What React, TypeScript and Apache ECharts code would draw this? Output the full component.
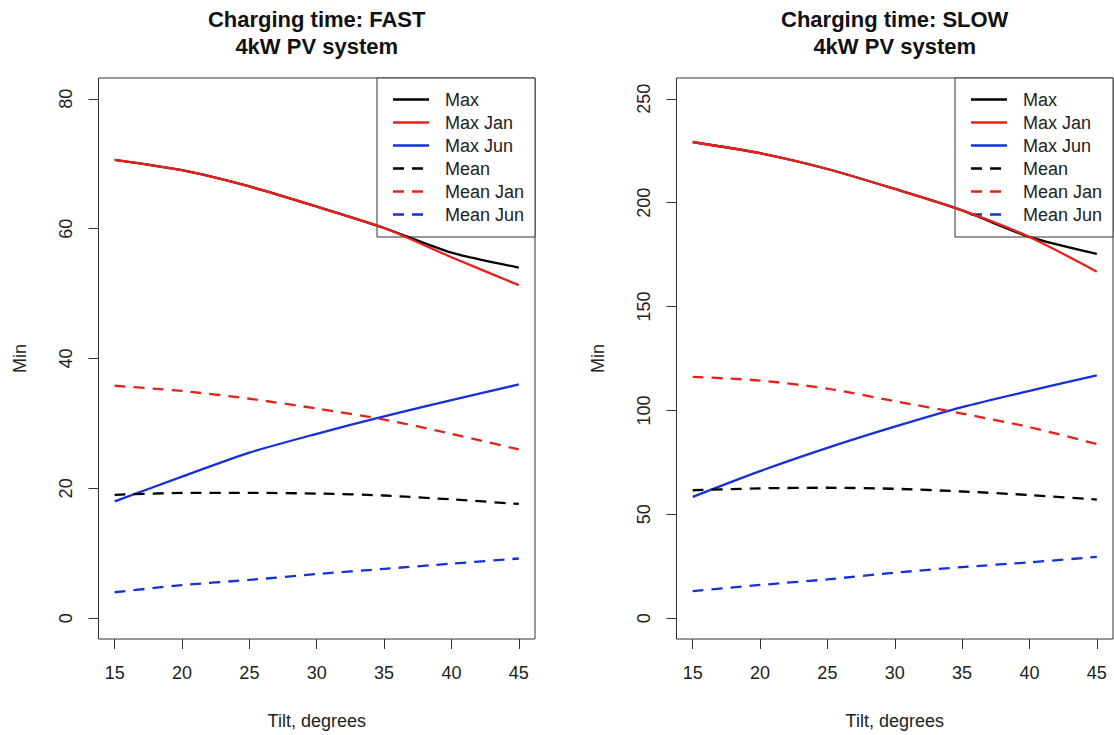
import React, { useEffect, useRef } from "react";
import * as echarts from "echarts";

// ---------- data ----------
const tilts = [15, 20, 25, 30, 35, 40, 45];

const seriesNames = ["Max", "Max Jan", "Max Jun", "Mean", "Mean Jan", "Mean Jun"];
const seriesColors = ["#000000", "#e8201a", "#1530d8", "#000000", "#e8201a", "#1530d8"];
const seriesDashed = [false, false, false, true, true, true];

// FAST charging
const fastMax = [70.6, 69.0, 66.5, 63.4, 60.1, 56.3, 54.0];
const fastMaxJan = [70.6, 69.0, 66.5, 63.4, 60.1, 55.6, 51.3];
const fastMaxJun = [18.0, 21.8, 25.5, 28.4, 31.1, 33.6, 36.0];
const fastMean = [19.0, 19.3, 19.3, 19.2, 18.9, 18.3, 17.6];
const fastMeanJan = [35.8, 35.0, 33.8, 32.3, 30.6, 28.4, 26.0];
const fastMeanJun = [4.0, 5.1, 5.9, 6.8, 7.6, 8.4, 9.2];

// SLOW charging
const slowMax = [229.2, 223.8, 216.2, 206.6, 196.3, 183.5, 175.3];
const slowMaxJan = [229.2, 223.8, 216.2, 206.6, 196.3, 183.5, 166.8];
const slowMaxJun = [58.4, 70.8, 82.0, 92.2, 101.6, 109.4, 116.9];
const slowMean = [61.6, 62.5, 62.8, 62.3, 61.0, 59.3, 57.1];
const slowMeanJan = [116.2, 114.4, 110.5, 104.5, 98.5, 92.0, 83.8];
const slowMeanJun = [13.0, 16.0, 18.7, 21.9, 24.6, 26.9, 29.5];

const fastSeries = [fastMax, fastMaxJan, fastMaxJun, fastMean, fastMeanJan, fastMeanJun];
const slowSeries = [slowMax, slowMaxJan, slowMaxJun, slowMean, slowMeanJan, slowMeanJun];

const fastYTicks = [0, 20, 40, 60, 80];
const slowYTicks = [0, 50, 100, 150, 200, 250];

const titles = ["Charging time: FAST\n4kW PV system", "Charging time: SLOW\n4kW PV system"];
const xName = "Tilt, degrees";
const yName = "Min";

// ---------- styling / layout ----------
const FONT = "Liberation Sans, Arial, Helvetica, sans-serif";
const TXT = "#222222";
const AX = "#333333";
const DASH = [11, 8];
const LW = 2.3;

const grids = [
  { left: 98.5, top: 78, width: 436.5, height: 561 },
  { left: 676.5, top: 78, width: 436.5, height: 561 },
];

function xAxisFor(gi: number) {
  return {
    type: "value",
    gridIndex: gi,
    min: 13.8,
    max: 46.2,
    axisLine: { show: false, onZero: false },
    axisTick: { show: true, customValues: tilts, length: 10, lineStyle: { color: AX, width: 1 } },
    axisLabel: { customValues: tilts, margin: 25, color: TXT, fontSize: 18, fontFamily: FONT },
    splitLine: { show: false },
    name: xName,
    nameLocation: "middle",
    nameGap: 73,
    nameTextStyle: { color: TXT, fontSize: 18, fontFamily: FONT },
  };
}

function yAxisFor(gi: number, ticks: number[], min: number, max: number) {
  return {
    type: "value",
    gridIndex: gi,
    min,
    max,
    axisLine: { show: false, onZero: false },
    axisTick: { show: true, customValues: ticks, length: 10, lineStyle: { color: AX, width: 1 } },
    axisLabel: { customValues: ticks, rotate: 90, margin: 24, color: TXT, fontSize: 18, fontFamily: FONT },
    splitLine: { show: false },
    name: yName,
    nameLocation: "middle",
    nameGap: 70,
    nameRotate: 90,
    nameTextStyle: { color: TXT, fontSize: 18, fontFamily: FONT },
  };
}

function legendGraphic(boxLeft: number) {
  const top = 78;
  const w = 158;
  const h = 159;
  const children: any[] = [
    {
      type: "rect",
      shape: { x: boxLeft, y: top, width: w, height: h },
      style: { fill: "#ffffff", stroke: AX, lineWidth: 1 },
    },
  ];
  seriesNames.forEach((name, i) => {
    const y = 99.5 + i * 23;
    children.push({
      type: "line",
      shape: { x1: boxLeft + 16, y1: y, x2: boxLeft + 52, y2: y },
      style: {
        stroke: seriesColors[i],
        lineWidth: LW,
        lineDash: seriesDashed[i] ? DASH : null,
      },
    });
    children.push({
      type: "text",
      x: boxLeft + 68,
      y,
      style: {
        text: name,
        fill: TXT,
        font: `18px ${FONT}`,
        textVerticalAlign: "middle",
        textAlign: "left",
      },
    });
  });
  return { type: "group", z: 100, children };
}

function titleGraphic(cx: number, text: string) {
  return {
    type: "text",
    x: cx,
    y: 6,
    z: 100,
    style: {
      text,
      fill: "#111111",
      font: `bold 22px ${FONT}`,
      textAlign: "center",
      textVerticalAlign: "top",
      lineHeight: 27,
    },
  };
}

function buildSeries(data: number[][], gi: number) {
  return data.map((vals, i) => ({
    type: "line",
    name: seriesNames[i],
    xAxisIndex: gi,
    yAxisIndex: gi,
    data: tilts.map((t, k) => [t, vals[k]]),
    showSymbol: false,
    smooth: 0.25,
    lineStyle: {
      color: seriesColors[i],
      width: LW,
      type: seriesDashed[i] ? DASH : "solid",
    },
    itemStyle: { color: seriesColors[i] },
    z: 2 + i,
  }));
}

export default function App() {
  const ref = useRef<HTMLDivElement>(null);
  useEffect(() => {
    if (!ref.current) return;
    const chart = echarts.init(ref.current, undefined, { renderer: "svg" });
    chart.setOption({
      animation: false,
      backgroundColor: "#ffffff",
      textStyle: { fontFamily: FONT },
      grid: grids.map((g) => ({ ...g, show: true, borderColor: AX, borderWidth: 1, backgroundColor: "transparent" })),
      xAxis: [xAxisFor(0), xAxisFor(1)],
      yAxis: [yAxisFor(0, fastYTicks, -3.2, 83.2), yAxisFor(1, slowYTicks, -10, 260)],
      series: [...buildSeries(fastSeries, 0), ...buildSeries(slowSeries, 1)],
      graphic: [
        titleGraphic(316.7, titles[0]),
        titleGraphic(894.7, titles[1]),
        legendGraphic(377),
        legendGraphic(955),
      ],
    });
    return () => chart.dispose();
  }, []);
  return (
    <div
      ref={ref}
      style={{ position: "absolute", left: 0, top: 0, width: 1114, height: 735 }}
    />
  );
}
